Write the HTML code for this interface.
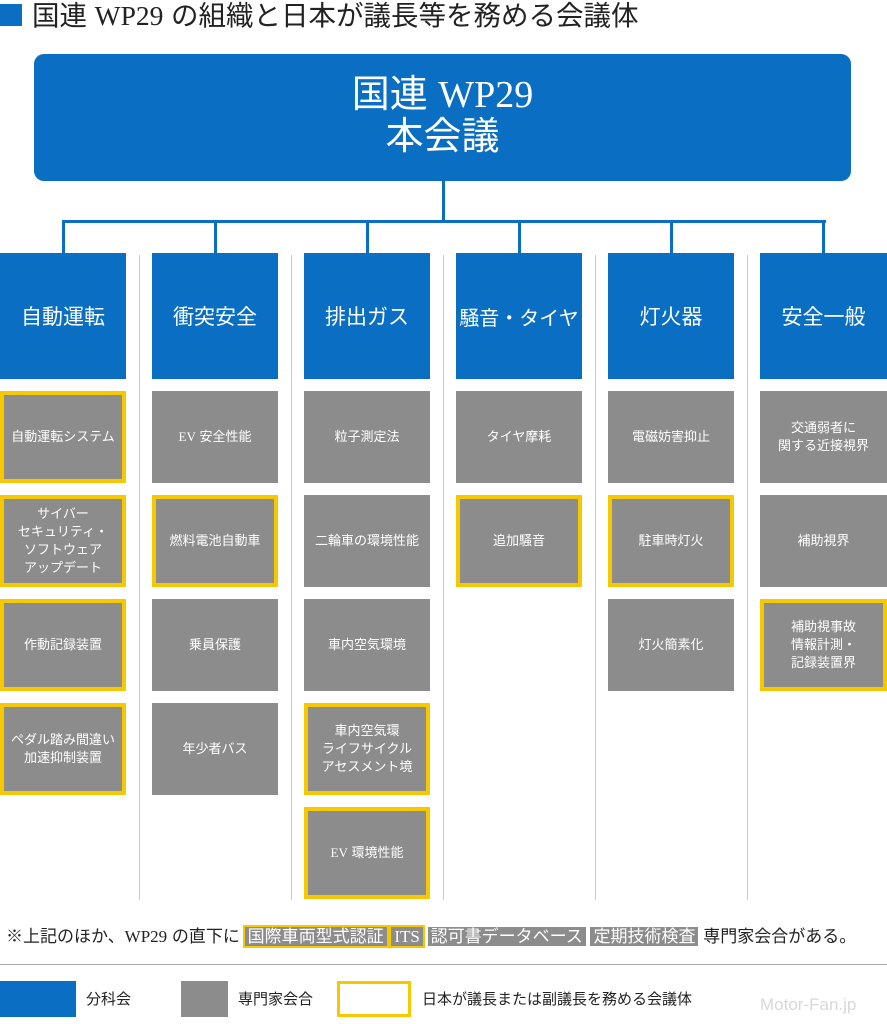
<!DOCTYPE html>
<html><head><meta charset="utf-8"><style>
*{margin:0;padding:0;box-sizing:border-box}
body{width:887px;height:1024px;background:#fff;position:relative;overflow:hidden;font-family:"Liberation Sans","Noto Sans CJK JP",sans-serif}
.a{position:absolute}
.hd{position:absolute;top:253px;width:126px;height:126px;background:#0a6fc2;color:#fff;font-size:21px;display:flex;align-items:center;justify-content:center;white-space:nowrap}
.g{position:absolute;width:126px;height:92px;background:#8c8c8c;color:#fff;font-size:13px;line-height:18px;display:flex;align-items:center;justify-content:center;text-align:center}
.y{border:4px solid #f5c800}
.sep{position:absolute;top:255px;width:1px;height:645px;background:#c8c8c8}
.ln{position:absolute;background:#0a6fc2}
.tag{padding:0 3px;color:#fff;background:#8c8c8c}
.s{font-family:"Liberation Serif","Noto Serif CJK SC",serif}
</style></head><body>
<div class="a" style="left:0;top:4px;width:22px;height:22px;background:#0a6fc2"></div>
<div class="a" style="left:32px;top:0;font-size:27.5px;line-height:32px;color:#222;white-space:nowrap">国連 <span class="s">WP29</span> の組織と日本が議長等を務める会議体</div>
<div class="a" style="left:34px;top:54px;width:817px;height:127px;background:#0a6fc2;border-radius:10px;color:#fff;font-size:38px;line-height:42px;text-align:center;padding-top:20px">国連 <span class="s">WP29</span><br>本会議</div>
<div class="ln" style="left:442px;top:181px;width:3px;height:42px"></div>
<div class="ln" style="left:62px;top:220px;width:764px;height:3px"></div>
<div class="ln" style="left:62px;top:220px;width:3px;height:34px"></div>
<div class="ln" style="left:214px;top:220px;width:3px;height:34px"></div>
<div class="ln" style="left:366px;top:220px;width:3px;height:34px"></div>
<div class="ln" style="left:518px;top:220px;width:3px;height:34px"></div>
<div class="ln" style="left:670px;top:220px;width:3px;height:34px"></div>
<div class="ln" style="left:822px;top:220px;width:3px;height:34px"></div>
<div class="sep" style="left:139px"></div><div class="sep" style="left:291px"></div><div class="sep" style="left:443px"></div><div class="sep" style="left:595px"></div><div class="sep" style="left:747px"></div>
<div class="hd" style="left:0">自動運転</div>
<div class="hd" style="left:152px">衝突安全</div>
<div class="hd" style="left:304px">排出ガス</div>
<div class="hd" style="left:456px;font-size:20px">騒音・タイヤ</div>
<div class="hd" style="left:608px">灯火器</div>
<div class="hd" style="left:760px;width:127px">安全一般</div>

<div class="g y" style="left:0;top:391px">自動運転システム</div>
<div class="g y" style="left:0;top:495px">サイバー<br>セキュリティ・<br>ソフトウェア<br>アップデート</div>
<div class="g y" style="left:0;top:599px">作動記録装置</div>
<div class="g y" style="left:0;top:703px">ペダル踏み間違い<br>加速抑制装置</div>

<div class="g" style="left:152px;top:391px"><span class="s">EV</span>&nbsp;安全性能</div>
<div class="g y" style="left:152px;top:495px">燃料電池自動車</div>
<div class="g" style="left:152px;top:599px">乗員保護</div>
<div class="g" style="left:152px;top:703px">年少者バス</div>

<div class="g" style="left:304px;top:391px">粒子測定法</div>
<div class="g" style="left:304px;top:495px">二輪車の環境性能</div>
<div class="g" style="left:304px;top:599px">車内空気環境</div>
<div class="g y" style="left:304px;top:703px">車内空気環<br>ライフサイクル<br>アセスメント境</div>
<div class="g y" style="left:304px;top:807px"><span class="s">EV</span>&nbsp;環境性能</div>

<div class="g" style="left:456px;top:391px">タイヤ摩耗</div>
<div class="g y" style="left:456px;top:495px">追加騒音</div>

<div class="g" style="left:608px;top:391px">電磁妨害抑止</div>
<div class="g y" style="left:608px;top:495px">駐車時灯火</div>
<div class="g" style="left:608px;top:599px">灯火簡素化</div>

<div class="g" style="left:760px;top:391px;width:127px">交通弱者に<br>関する近接視界</div>
<div class="g" style="left:760px;top:495px;width:127px">補助視界</div>
<div class="g y" style="left:760px;top:599px;width:127px">補助視事故<br>情報計測・<br>記録装置界</div>

<div class="a" style="left:6px;top:926px;font-size:17px;line-height:22px;color:#222;white-space:nowrap">※上記のほか、<span class="s">WP29</span> の直下に <span class="tag" style="outline:2px solid #f5c800">国際車両型式認証</span> <span class="tag s" style="outline:2px solid #f5c800">ITS</span> <span class="tag">認可書データベース</span> <span class="tag">定期技術検査</span> 専門家会合がある。</div>
<div class="a" style="left:0;top:964px;width:887px;height:1px;background:#aaa"></div>
<div class="a" style="left:0;top:981px;width:76px;height:36px;background:#0a6fc2"></div>
<div class="a" style="left:86px;top:988px;font-size:15px;color:#222">分科会</div>
<div class="a" style="left:181px;top:981px;width:47px;height:36px;background:#8c8c8c"></div>
<div class="a" style="left:238px;top:988px;font-size:15px;color:#222">専門家会合</div>
<div class="a" style="left:337px;top:981px;width:74px;height:36px;border:3px solid #f5c800"></div>
<div class="a" style="left:422px;top:988px;font-size:15px;color:#222">日本が議長または副議長を務める会議体</div>
<div class="a" style="left:760px;top:995px;font-size:17px;color:#d8d8d8">Motor-Fan.jp</div>
</body></html>
